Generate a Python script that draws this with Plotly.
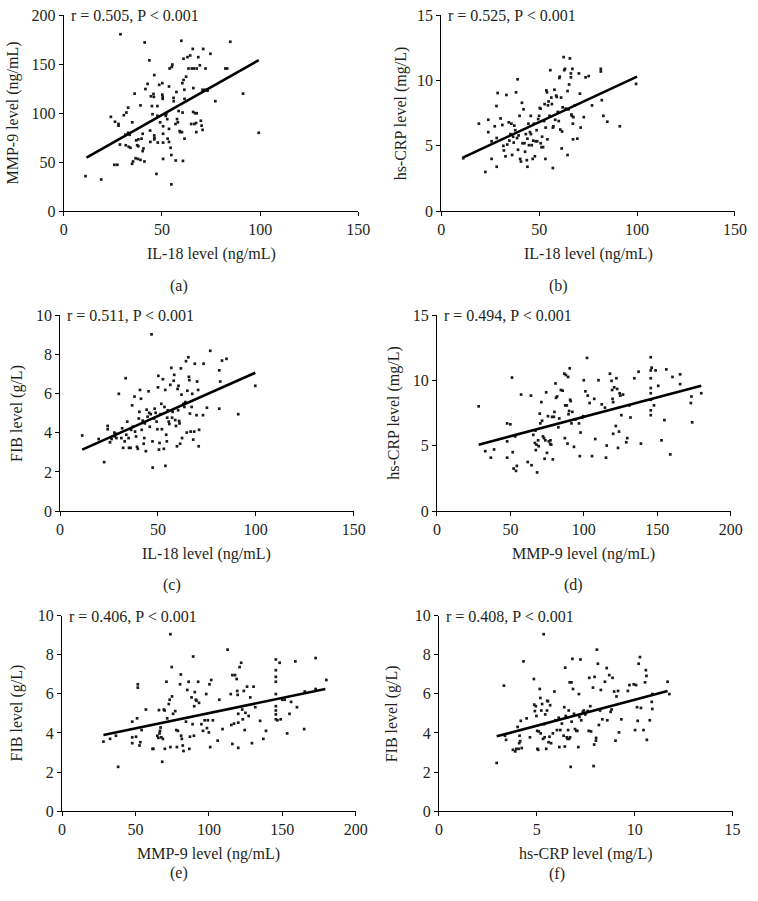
import plotly.graph_objects as go

# ---------------- data ----------------
il18_vs_mmp9 = [(11.1,35.7),(19.1,32.3),(28.9,180.7),(24,96.3),(26.1,91.3),(27.9,89),(27.9,87.3),(25.8,47.3),(27.3,47.3),(28.6,68),(30.6,98),(31.9,100.7),(32.8,105.7),(31.4,78),(32.8,80),(33.6,78),(31.6,67.3),(33.1,65.7),(34,64.7),(34.9,90.7),(36.1,120),(34.8,48.3),(35.3,50.7),(36.6,54),(37.8,53.3),(36.9,72.3),(38,73.3),(37.4,67.3),(38,66.3),(39.1,108),(39.1,52.3),(39.6,74),(40.2,79),(40.6,64),(40.2,61.3),(41.1,50.7),(41.2,172.3),(41.6,124.7),(42.7,130),(43.6,154),(44,82.3),(44.1,70.7),(44.4,117.3),(44.9,107.3),(45.2,99),(45.7,119.7),(45.9,116.7),(46.1,139),(46.1,77.3),(46.2,74.7),(46.1,73.3),(47.2,38),(47.7,107.3),(47.7,97.3),(47.9,70),(48.6,129),(49.1,90.7),(50.2,130.7),(50.2,119),(50.4,116.7),(50.4,114.7),(50.6,86.7),(50.6,79),(50.6,70),(50.6,53.3),(51.9,97.3),(52.2,99),(52.7,94),(52.9,74),(53.6,127.3),(53.6,84),(53.6,70.7),(53.9,145.7),(54.4,64.7),(54.8,57.3),(54.8,27.3),(55,147.3),(55.3,149.7),(55.9,115.7),(56,112.3),(56.9,89),(57,51.7),(57.4,121.7),(57.7,94),(58.1,90.7),(58.5,102.3),(59,81.7),(59.4,80.7),(59.9,174),(60.2,80.7),(60.4,130.7),(60.5,100.7),(60.7,51.3),(61,134),(61,155.7),(61.4,124),(61.5,114.7),(61.5,74),(62.3,137.3),(63,157.3),(63.5,145.7),(64.4,159),(64.9,89),(65.2,145.7),(65.7,165.7),(65.9,101.3),(66,125.7),(66.2,145.7),(66.5,89),(66.9,100),(67.4,90),(67.5,80.7),(67.7,100),(67.7,145.7),(68.5,157.3),(69.3,149),(69.8,92.3),(70.2,87.3),(70.7,83),(70.7,124),(71,165.7),(72.2,145.7),(72.2,124),(73.2,123),(74.7,160.7),(77.2,112.3),(82.3,145.7),(83.2,145.7),(84.8,173),(91.3,120),(99.3,80)]

il18_vs_crp = [(11.2,4.05),(19.2,6.7),(24,7),(24,6.05),(22.5,3),(25.7,4),(25.7,5.35),(27.3,6.5),(28.2,8.05),(28.8,9.05),(28.3,5.6),(28.3,3.4),(30.3,7.1),(31.2,6.6),(31.7,5),(32,4.65),(32.8,4.2),(33.3,8.9),(33.7,5.1),(34.5,6.8),(34.8,5.4),(35.3,5.9),(35.8,6.7),(36.2,4.3),(36.7,5.7),(37,5.25),(37.3,6.55),(37.8,6.2),(38.2,9.1),(38.7,5.6),(39,10.1),(39.2,4.7),(39.5,5.8),(40,7.3),(40.3,4),(40.7,3.8),(41.2,8.3),(41.5,5.2),(42,7.8),(42.5,5.2),(42.8,4.55),(43.2,5.9),(43.7,3.9),(44,5.55),(44,3.4),(44.5,6.7),(44.8,5.05),(45.3,6.05),(45.7,7.3),(45.8,5.9),(46.2,5.05),(46.7,4),(47,5.4),(47.3,6.7),(47.8,4.2),(48.2,5.35),(48.7,6.2),(49,5.35),(49.5,7.05),(50,7.3),(50.3,7.9),(50.7,7.85),(50.8,5.2),(51.2,4.9),(51.5,5.7),(52,4.9),(52.5,6.9),(52.8,8.2),(53.2,4),(53.3,6.4),(53.7,9.25),(54,9.1),(54.2,5.5),(54.5,8.1),(54.8,8.4),(55.3,7.3),(55.7,10.8),(56.2,8.7),(56.5,8.2),(57,3.3),(57,6.4),(57.3,6.5),(57.8,9.3),(58.2,7),(58.7,8.85),(59,8.75),(59.5,7.6),(60,6.9),(60.3,10.2),(60.5,10.3),(60.8,6.25),(61.2,8.7),(61.5,4.8),(61.7,6.1),(62,7.95),(62.5,11.8),(62.8,10.8),(63.2,10.9),(63.5,7.85),(64.2,7.8),(64.5,4.3),(64.5,9.2),(65,7.8),(65.3,9.7),(65.7,11.7),(66.2,10.55),(66.2,10.25),(66.5,7.4),(66.7,7.3),(67,10.9),(67.2,6.7),(67.3,5.5),(67.5,7.2),(68.2,8.1),(69.5,5.55),(70.3,10.55),(70.8,9),(71.2,6.4),(72.8,7.2),(73.7,10.25),(75.3,10.35),(77,8.1),(81.5,10.9),(81.5,10.7),(82,8.5),(82.8,7.3),(84.8,6.85),(91.2,6.5),(99.5,9.75)]

il18_vs_fib = [(11.3,3.86),(19.7,3.68),(22.5,2.5),(24.3,4.35),(24.3,4.18),(25.5,3.51),(26.3,3.68),(27.7,4.01),(28,3.81),(28.5,3.95),(28.8,3.73),(30,5.99),(31.3,3.73),(31.7,4.23),(32.2,3.23),(33,3.56),(33.5,6.79),(33.8,3.9),(34.3,4.57),(35,3.73),(35.2,3.23),(36,3.23),(36.3,4.15),(36.8,5.4),(37.2,4.31),(38,5.85),(38.3,4.06),(38.8,3.81),(39.3,3.28),(39.7,3.18),(40.2,4.73),(40.5,5.07),(40.8,6.19),(41.3,5.74),(41.7,4.15),(42.2,4.62),(42.7,3.44),(43,3.73),(43.3,4.48),(43.8,3.06),(44.2,5.18),(44.7,4.82),(45.2,6.12),(45.5,5.02),(45.8,4.31),(46.3,4.95),(46.7,9.03),(47.2,3.56),(47.3,2.22),(48,4.73),(48.3,5.23),(48.8,5.02),(49.3,4.57),(49.7,4.18),(50,6.32),(50.2,6.91),(50.5,3.14),(50.8,3.48),(51.3,4.95),(51.7,5.48),(52,4.18),(52.5,6.74),(53,3.18),(53.3,5.32),(53.7,6.19),(53.8,2.31),(54.2,3.9),(54.5,3.56),(54.7,4.77),(55,5.15),(55.5,4.57),(55.8,4.45),(56.3,6.45),(56.8,7.32),(57.2,4.77),(57.5,5.07),(58,6.66),(58.3,6.96),(58.8,4.65),(59.2,4.35),(59.7,3.31),(60,6.24),(60.3,5.15),(60.5,6.4),(60.8,4.6),(61,4.48),(61.3,3.44),(61.7,7.29),(62,5.95),(62.3,3.73),(63,5.48),(63.5,5.32),(64,5.57),(64.3,7.66),(64.7,4.01),(65,6.15),(65.5,7.86),(65.8,6.86),(66,6.69),(66.3,4.98),(66.7,4.06),(67.2,5.32),(67.5,5.99),(68,3.65),(68.5,4.06),(68.8,7.53),(69.7,4.9),(70,6.62),(70.5,6.19),(70.8,3.31),(71,4.15),(73,4.9),(73.3,7.53),(75,5.28),(76.7,8.19),(81.3,7.19),(81.3,5.23),(81.8,6.62),(82.7,7.69),(85,7.78),(91,4.95),(99.7,6.4)]

mmp9_vs_crp = [(28.4,8.03),(32.9,4.59),(36.7,4.09),(38.9,4.72),(47.8,5.34),(47.8,6.72),(47.8,4.09),(50,6.65),(51.1,10.23),(51.6,4.51),(52.2,3.26),(53.3,5.72),(53.8,3.08),(54.4,3.46),(57.3,8.93),(61.8,3.76),(64,8.85),(64.4,3.51),(65.6,5.84),(66.7,5.22),(67.1,6.17),(67.3,4.67),(67.8,5.09),(68.2,2.96),(68.9,5.42),(69.3,4.97),(70,7.47),(70.4,6.72),(71.1,8.35),(71.6,6.92),(72.2,5.72),(72.9,5.59),(73.3,4.01),(73.8,5.42),(74.4,9.1),(74.9,4.46),(75.6,7.27),(76.2,5.34),(77.1,5.14),(77.3,5.42),(77.8,5.09),(78.4,7.22),(78.9,3.96),(79.6,7.22),(80,7.6),(80.7,9.78),(81.1,8.68),(81.8,8.78),(82.7,6.42),(83.3,7.1),(84.4,9.28),(85.6,9.23),(86.7,10.53),(87.1,5.59),(87.3,8.1),(87.8,10.43),(88.4,8.1),(88.9,5.17),(89.3,10.28),(89.6,7.42),(90,7.67),(90.4,10.94),(90.7,8.53),(91.1,8.43),(91.6,6.72),(92.2,7.6),(93.3,4.92),(94.4,7.02),(96.7,6.72),(97.3,4.21),(97.8,6.02),(98.9,7.17),(99.6,7.27),(100,10.03),(101.1,9.18),(102.2,11.74),(102.7,8.85),(104,8.28),(105.6,4.21),(107.1,8.6),(107.8,5.52),(110,10.03),(112.2,8.18),(114.4,7.93),(115.1,4.09),(115.6,5.02),(117.8,10.53),(118.9,9.98),(119.3,9.28),(119.6,8.6),(120,8.35),(120,5.92),(120.7,9.48),(121.8,6.52),(122.2,10.18),(122.7,9.36),(123.3,4.84),(124,6.09),(124.4,9.03),(124.9,8.85),(125.6,7.35),(126.7,8.93),(128.9,5.27),(129.6,5.59),(131.1,8.1),(131.8,7.17),(134.4,10.18),(137.3,10.68),(138.9,5.17),(145.6,11.79),(145.6,10.78),(145.6,10.18),(145.6,9.43),(145.6,9.03),(145.6,8.53),(145.6,7.72),(145.6,7.35),(146.2,10.99),(147.8,8.1),(148.9,10.78),(150.7,9.6),(152.9,5.42),(154.9,6.97),(156.2,10.86),(158.9,4.34),(160.4,10.28),(165.6,9.73),(165.6,10.48),(172.9,8.28),(173.3,8.78),(173.8,6.8),(180,9.03)]

mmp9_vs_fib = [(28.2,3.56),(32.7,3.7),(36.7,3.86),(38.2,2.27),(47.8,4.58),(47.8,3.78),(47.8,3.48),(50.4,3.81),(51.1,4.75),(51.6,6.32),(51.6,6.49),(52.7,3.36),(53.3,3.53),(54.2,4.15),(57.1,5.2),(61.6,3.19),(62.2,3.19),(64.9,3.86),(65.6,3.75),(66,5.17),(66.4,3.98),(66.7,4.11),(67.1,4.28),(67.6,3.78),(68.2,2.53),(68.7,3.7),(69.3,5.2),(69.8,5.15),(70,3.19),(71.1,6.62),(71.6,4.75),(72.7,5.48),(73.3,5.7),(73.8,9.05),(73.8,3.28),(74.7,7.37),(74.9,5.87),(75.6,4.98),(77.1,5.12),(77.8,4.15),(78.2,3.28),(78.9,4.11),(80.4,6.49),(80.9,6.99),(81.1,3.86),(81.6,3.7),(82.2,3.36),(82.7,3.08),(84.4,4.58),(85.3,6.2),(86.2,6.62),(86.7,3.19),(87.1,3.81),(88.2,5.82),(88.9,4.45),(89.3,7.91),(89.8,3.86),(90,5.37),(90.4,6.09),(91.1,5.7),(91.6,5.65),(92.7,6.62),(93.3,5.54),(94.9,4.45),(96,4.11),(97.1,4.65),(98.2,5.99),(98.7,4.25),(99.3,4.65),(100,4.03),(100.4,6.49),(100.9,3.28),(101.6,6.71),(102.7,4.65),(106,3.61),(107.1,5.7),(109.3,4.2),(112.7,8.26),(114.9,5.99),(115.3,4.41),(116,6.96),(116,3.44),(117.1,4.48),(117.8,6.96),(118.9,6.76),(119.3,6.15),(119.6,5.95),(120,4.98),(120,4.53),(120,3.24),(120.9,7.37),(122,7.59),(122.7,5.2),(123.1,4.7),(123.8,6.15),(124.4,4.15),(124.9,5.03),(126,6.37),(127.1,4.87),(128.2,5.82),(129.3,3.48),(130.4,6.37),(131.6,5.32),(134.9,4.62),(137.1,3.7),(138.9,4.11),(145.6,7.76),(145.6,7.21),(145.6,6.87),(145.6,6.62),(145.6,5.99),(145.6,5.37),(145.6,5.15),(145.6,4.95),(145.6,4.7),(146.7,4.65),(148.2,7.59),(148.9,4.7),(150,5.7),(151.6,5.7),(153.3,3.98),(154.9,4.98),(156,5.59),(158.9,7.66),(160,5.32),(164.9,4.2),(165.3,6.12),(172.7,7.83),(172.7,6.25),(180,6.71)]

crp_vs_fib = [(2.95,2.47),(3.32,6.42),(3.37,3.86),(3.43,3.65),(3.78,3.14),(3.9,3.06),(3.95,3.19),(4.02,4.31),(4.07,3.19),(4.1,3.48),(4.12,3.86),(4.15,3.58),(4.18,4.62),(4.23,3.23),(4.32,7.66),(4.48,4.75),(4.65,3.78),(4.85,6.76),(4.87,5.45),(4.9,5.12),(4.95,5.37),(4.98,4.87),(5.02,4.11),(5.03,3.19),(5.07,3.14),(5.1,4.08),(5.15,6.25),(5.18,5.79),(5.2,3.98),(5.23,5.15),(5.27,5.48),(5.32,3.7),(5.35,9.05),(5.37,4.45),(5.4,3.78),(5.43,4.95),(5.48,3.19),(5.52,5.15),(5.53,5.65),(5.57,5.62),(5.6,3.53),(5.65,3.81),(5.68,5.42),(5.73,3.48),(5.82,3.98),(5.9,6.12),(5.95,4.65),(6.03,4.15),(6.12,4.78),(6.15,3.28),(6.2,4.15),(6.28,4.48),(6.37,3.86),(6.4,5.32),(6.43,3.31),(6.45,7.34),(6.48,4.87),(6.53,3.78),(6.57,3.7),(6.6,4.15),(6.63,5.15),(6.65,3.7),(6.68,6.59),(6.7,3.78),(6.73,2.27),(6.77,6.59),(6.78,4.58),(6.82,7.79),(6.85,6.25),(6.9,4.98),(6.95,4.2),(7.02,4.11),(7.07,4.11),(7.12,3.28),(7.15,5.99),(7.18,4.82),(7.23,7.76),(7.27,4.65),(7.35,5.08),(7.4,5.15),(7.48,4.95),(7.6,5.12),(7.65,4.11),(7.68,6.82),(7.73,5.37),(7.77,4.08),(7.87,6.32),(7.9,2.31),(7.93,3.41),(7.95,6.87),(8.02,3.61),(8.03,3.75),(8.07,8.26),(8.12,7.54),(8.17,4.41),(8.23,5.15),(8.27,6.2),(8.35,4.7),(8.48,6.62),(8.57,7.32),(8.6,4.65),(8.7,6.96),(8.77,5.08),(8.82,5.2),(8.87,6.82),(8.95,6.12),(9.02,3.61),(9.07,5.87),(9.15,6.15),(9.2,4.03),(9.32,4.7),(9.65,6.15),(9.73,6.45),(9.95,6.49),(10.02,4.15),(10.07,6.45),(10.12,5.32),(10.15,4.62),(10.2,7.54),(10.27,7.88),(10.32,5.28),(10.45,4.15),(10.53,6.59),(10.57,7.21),(10.6,6.92),(10.62,3.65),(10.77,4.65),(10.87,5.59),(10.9,5.23),(10.9,5.99),(11.68,6.62),(11.77,5.99)]

# regression line end points (x, y)
fit_a = [(11.6, 54.7), (99.3, 154.3)]
fit_b = [(11.0, 4.10), (100.0, 10.30)]
fit_c = [(11.3, 3.14), (99.7, 7.07)]
fit_d = [(28.4, 5.09), (180.0, 9.60)]
fit_e = [(28.2, 3.90), (179.3, 6.25)]
fit_f = [(2.95, 3.83), (11.68, 6.15)]

stats_text = ["r = 0.505, P < 0.001", "r = 0.525, P < 0.001", "r = 0.511, P < 0.001",
              "r = 0.494, P < 0.001", "r = 0.406, P < 0.001", "r = 0.408, P < 0.001"]
x_titles = ["IL-18 level (ng/mL)", "IL-18 level (ng/mL)", "IL-18 level (ng/mL)",
            "MMP-9 level (ng/mL)", "MMP-9 level (ng/mL)", "hs-CRP level (mg/L)"]
y_titles = ["MMP-9 level (ng/mL)", "hs-CRP level (mg/L)", "FIB level (g/L)",
            "hs-CRP level (mg/L)", "FIB level (g/L)", "FIB level (g/L)"]
panel_labels = ["(a)", "(b)", "(c)", "(d)", "(e)", "(f)"]
x_ticks = [[0, 50, 100, 150], [0, 50, 100, 150], [0, 50, 100, 150],
           [0, 50, 100, 150, 200], [0, 50, 100, 150, 200], [0, 5, 10, 15]]
y_ticks = [[0, 50, 100, 150, 200], [0, 5, 10, 15], [0, 2, 4, 6, 8, 10],
           [0, 5, 10, 15], [0, 2, 4, 6, 8, 10], [0, 2, 4, 6, 8, 10]]

# ---------------- layout geometry (window pixels) ----------------
W, H = 758, 901
# plot-area boxes in window pixels: left, right, top, bottom
boxes = [(61, 362, 7.5, 207), (446.7, 746.7, 7.5, 207),
         (57.3, 357.3, 313.3, 512.7), (442.3, 742.3, 313.3, 512.7),
         (59.3, 359.3, 619.3, 818.7), (444.3, 744.3, 619.3, 818.7)]
ytitle_x = [9.5, 405.7, 14, 399, 13.3, 397.3]
label_pos = [(179, 283), (566, 283), (172, 588), (582, 588), (179, 882), (565, 883)]


def px(x):
    return x / W


def py(y):
    return 1 - y / H


FONT = "Liberation Serif"
TXT = "#231f20"

fig = go.Figure()
datasets = [il18_vs_mmp9, il18_vs_crp, il18_vs_fib, mmp9_vs_crp, mmp9_vs_fib, crp_vs_fib]
fits = [fit_a, fit_b, fit_c, fit_d, fit_e, fit_f]

annotations = []
for i in range(6):
    n = "" if i == 0 else str(i + 1)
    xa, ya = "x" + n, "y" + n
    pts = datasets[i]
    fig.add_trace(go.Scatter(
        x=[p[0] for p in pts], y=[p[1] for p in pts], mode="markers",
        marker=dict(color="#1a1a1a", size=2.7, symbol="square", line=dict(width=0)),
        xaxis=xa, yaxis=ya, showlegend=False, hoverinfo="skip", cliponaxis=False))
    fig.add_trace(go.Scatter(
        x=[p[0] for p in fits[i]], y=[p[1] for p in fits[i]], mode="lines",
        line=dict(color="#000000", width=2.6),
        xaxis=xa, yaxis=ya, showlegend=False, hoverinfo="skip"))

    l, r, t, b = boxes[i]
    ax_common = dict(showline=True, linecolor="#000000", linewidth=1, ticks="outside",
                     ticklen=4, tickwidth=1, tickcolor="#000000", showgrid=False,
                     zeroline=False, tickfont=dict(family=FONT, size=16, color=TXT),
                     ticklabeloverflow="allow", fixedrange=True)
    xt, yt = x_ticks[i], y_ticks[i]
    fig.update_layout(**{
        ("xaxis" + n): dict(domain=[px(l), px(r)], range=[xt[0], xt[-1]],
                            tickvals=xt, anchor=ya, **ax_common),
        ("yaxis" + n): dict(domain=[py(b), py(t)], range=[yt[0], yt[-1]],
                            tickvals=yt, anchor=xa, **ax_common),
    })
    f = dict(family=FONT, size=16, color=TXT)
    annotations.append(dict(text=stats_text[i], xref="paper", yref="paper",
                            x=px(l + 5), y=py(t + 0.5), xanchor="left", yanchor="middle",
                            showarrow=False, font=f))
    annotations.append(dict(text=x_titles[i], xref="paper", yref="paper",
                            x=px((l + r) / 2), y=py(b + 44), xanchor="center", yanchor="middle",
                            showarrow=False, font=f))
    annotations.append(dict(text=y_titles[i], xref="paper", yref="paper",
                            x=px(ytitle_x[i]), y=py((t + b) / 2), xanchor="center", yanchor="middle",
                            textangle=-90, showarrow=False, font=f))
    lx, ly = label_pos[i]
    annotations.append(dict(text=panel_labels[i], xref="paper", yref="paper",
                            x=px(lx), y=py(ly), xanchor="center", yanchor="middle",
                            showarrow=False, font=f))

fig.update_layout(width=W, height=H, margin=dict(l=0, r=0, t=0, b=0),
                  paper_bgcolor="white", plot_bgcolor="white",
                  annotations=annotations, showlegend=False)

# place the figure flush with the window's top-left corner (no default page margin)
fig.write_html("out.html", config={"displayModeBar": False},
               post_script="document.body.style.margin='0';document.body.style.overflow='hidden';")
